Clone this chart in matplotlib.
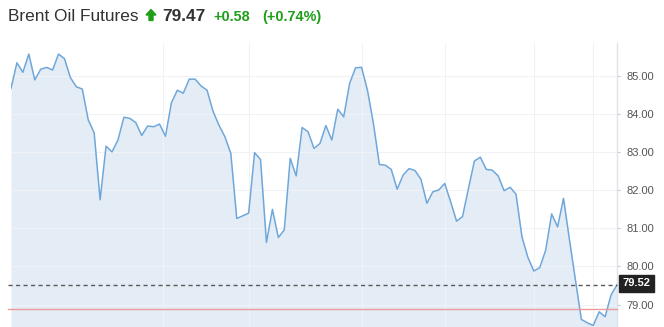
import numpy as np
import matplotlib
matplotlib.use("Agg")
import matplotlib.pyplot as plt
import matplotlib.transforms as mtransforms
from matplotlib.patches import Polygon, Rectangle

plt.rcParams['font.family'] = ['Liberation Sans', 'DejaVu Sans']

# price series (intraday)
prices = [
    84.68, 85.35, 85.10, 85.58, 84.90, 85.18, 85.23, 85.16, 85.58, 85.46,
    84.96, 84.72, 84.66, 83.85, 83.51, 81.75, 83.16, 83.01, 83.32, 83.92,
    83.89, 83.78, 83.44, 83.69, 83.67, 83.74, 83.42,
    84.30, 84.63, 84.55, 84.92, 84.92, 84.74, 84.63, 84.08, 83.71, 83.41,
    82.97, 81.26, 81.33, 81.40, 82.99, 82.81, 80.63, 81.50, 80.76, 80.96,
    82.84, 82.38, 83.65, 83.54, 83.10, 83.23,
    83.70, 83.32, 84.13, 83.93, 84.81, 85.22, 85.23, 84.63, 83.76, 82.68,
    82.66, 82.55, 82.03, 82.40, 82.57, 82.52, 82.29, 81.66, 81.96, 82.01,
    82.18, 81.70, 81.19, 81.31, 82.05, 82.77,
    82.87, 82.55, 82.53, 82.38, 81.99, 82.08, 81.90, 80.78, 80.24, 79.88,
    79.97, 80.43, 81.38, 81.04, 81.79, 80.70, 79.65, 78.61, 78.52, 78.45,
    78.81, 78.68, 79.25, 79.52,
]
day_breaks = [25.5, 40, 59, 73, 88, 98]
y_ticks = [79, 80, 81, 82, 83, 84, 85]
last_price = 79.52
prev_close = 78.89

title = "Brent Oil Futures"
quote = "79.47"
change = "+0.58"
change_pct = "(+0.74%)"

W, H = 664, 327
LINE = '#6fa7da'
FILL = '#e4edf5'
GRID = '#f0f2f6'
GREEN = '#1f9e1a'

fig = plt.figure(figsize=(W / 100, H / 100), dpi=100)
ax = fig.add_axes([11 / W, 0, (617 - 11) / W, (327 - 43) / H])

x = np.arange(len(prices))
y_bottom = 78.41
ax.fill_between(x, prices, y_bottom, color=FILL, lw=0, zorder=1)
ax.plot(x, prices, color=LINE, lw=1.1, zorder=3)

ax.set_xlim(0, len(prices) - 1)
ax.set_ylim(y_bottom, 85.87)

for yt in y_ticks:
    ax.axhline(yt, color=GRID, lw=0.8, zorder=2)
for xb in day_breaks:
    ax.axvline(xb, color=GRID, lw=0.8, zorder=2)

# reference lines, extending slightly left of the plot area
blend = mtransforms.blended_transform_factory(fig.transFigure, ax.transData)
ax.plot([8 / W, 617 / W], [prev_close, prev_close], color='#ee9a9a', lw=1,
        transform=blend, clip_on=False, zorder=4)
ax.plot([8 / W, 617 / W], [last_price, last_price], color='#5a5a5a', lw=1,
        linestyle=(0, (3, 2.4)), transform=blend, clip_on=False, zorder=4)

for s in ['top', 'left', 'bottom']:
    ax.spines[s].set_visible(False)
ax.spines['right'].set_color('#dde3ec')
ax.spines['right'].set_linewidth(1)

ax.set_xticks([])
ax.yaxis.tick_right()
ax.set_yticks(y_ticks)
ax.set_yticklabels([f"{v:.2f}" for v in y_ticks])
ax.tick_params(axis='y', length=2.5, pad=4, color='#c8c8c8',
               labelcolor='#555555', labelsize=8)

# last price tag
fig.patches.append(Rectangle((619 / W, 1 - 292 / H), 35 / W, 17 / H,
                             transform=fig.transFigure, color='#222222',
                             zorder=5))
fig.text(636.5 / W, 1 - 283.5 / H, f"{last_price:.2f}", color='white',
         fontsize=8, fontweight='bold', ha='center', va='center', zorder=6)

# header
base = 1 - 21 / H
fig.text(8 / W, base, title, fontsize=12.4, color='#333333', va='baseline')
arrow_px = [(146, 15), (151, 9.5), (156, 15), (153, 15), (153, 20.5),
            (149, 20.5), (149, 15)]
fig.patches.append(Polygon([(px / W, 1 - py / H) for px, py in arrow_px],
                           closed=True, transform=fig.transFigure,
                           color=GREEN))
fig.text(162 / W, base, quote, fontsize=12.4, color='#333333',
         fontweight='bold', va='baseline')
fig.text(213 / W, base, change, fontsize=10.4, color=GREEN,
         fontweight='bold', va='baseline')
fig.text(262 / W, base, change_pct, fontsize=10.4, color=GREEN,
         fontweight='bold', va='baseline')

fig.savefig('out.png', dpi=100)
